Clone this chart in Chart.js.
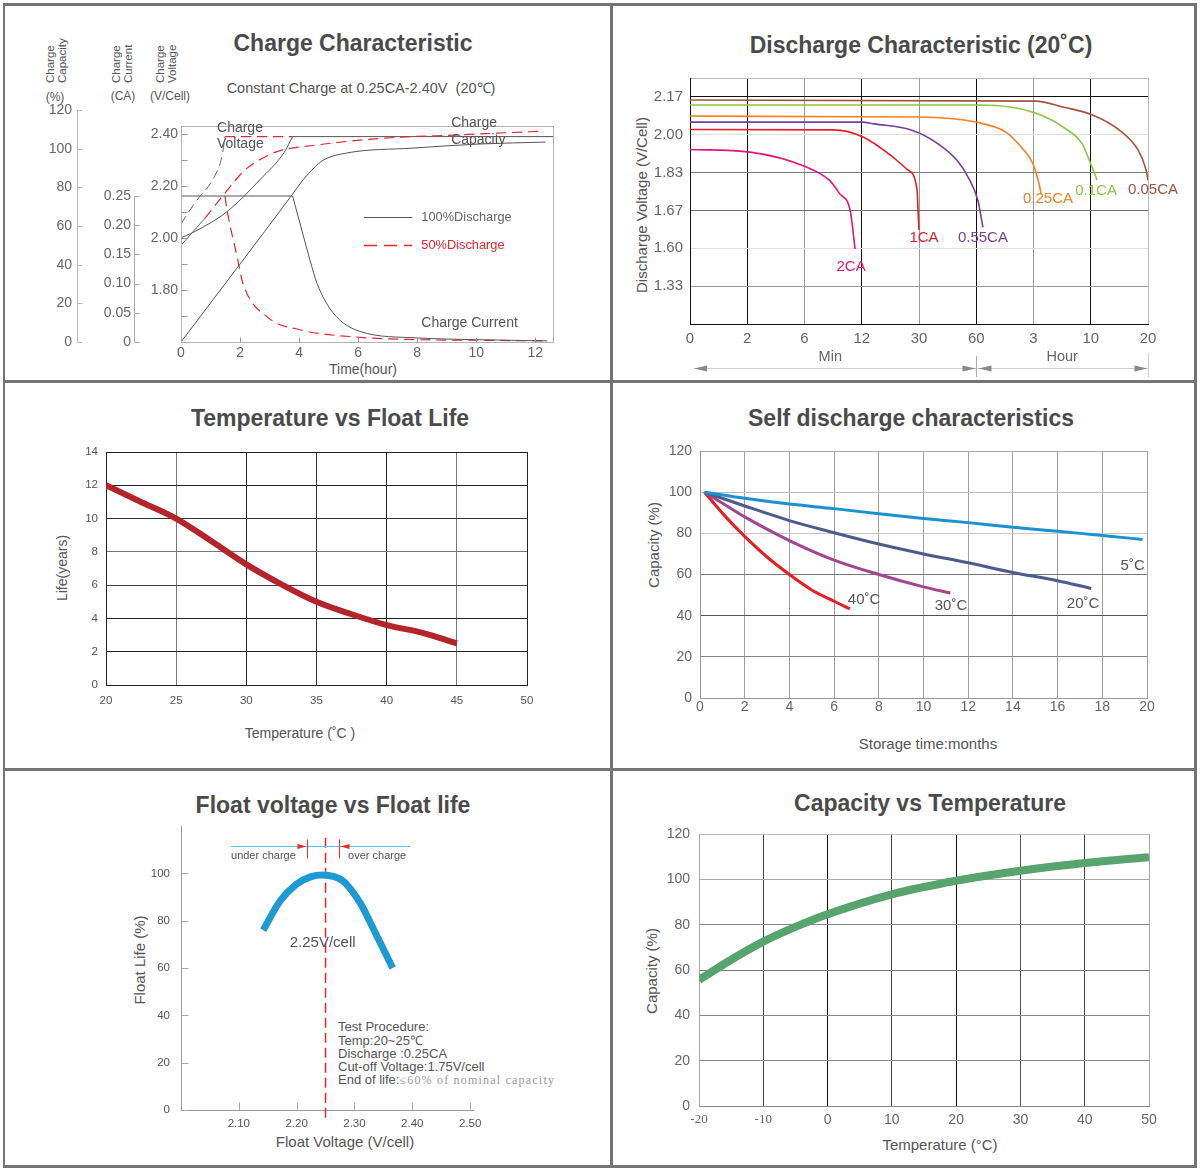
<!DOCTYPE html>
<html>
<head>
<meta charset="utf-8">
<title>Battery characteristics</title>
<script src="https://cdn.jsdelivr.net/npm/chart.js@4.4.1/dist/chart.umd.min.js"></script>
<style>
  body { margin: 0; background: #fff; }
  #page { position: relative; width: 1200px; height: 1171px; overflow: hidden;
          font-family: "Liberation Sans", Arial, sans-serif; color: #555; }
  #page canvas { position: absolute; left: 0; top: 0; }
  .rule { position: absolute; background: #737378; }
  .t { position: absolute; white-space: nowrap; transform: translate(-50%, -50%); }
  .title { font-size: 23px; font-weight: bold; color: #4a4a4a; }
  .rot { transform: translate(-50%, -50%) rotate(-90deg); }
  .head { position: absolute; top: 83px; font-size: 11.5px; line-height: 12px;
          transform-origin: 0 0; transform: rotate(-90deg); white-space: nowrap; }
  .proc { position: absolute; left: 338px; font-size: 13px; white-space: nowrap; transform: translateY(-50%); }
</style>
</head>
<body>
<div id="page">
  <div class="rule" style="left:3px;top:3px;width:1194px;height:3px"></div>
  <div class="rule" style="left:3px;top:1165px;width:1194px;height:3px"></div>
  <div class="rule" style="left:3px;top:3px;width:2px;height:1165px"></div>
  <div class="rule" style="left:1194px;top:3px;width:3px;height:1165px"></div>
  <div class="rule" style="left:610px;top:3px;width:3px;height:1165px"></div>
  <div class="rule" style="left:3px;top:380px;width:1194px;height:3px"></div>
  <div class="rule" style="left:3px;top:768px;width:1194px;height:3px"></div>

  <!-- panel titles -->
  <div class="t title" style="left:353px;top:43px">Charge Characteristic</div>
  <div class="t title" style="left:921px;top:45px">Discharge Characteristic (20˚C)</div>
  <div class="t title" style="left:330px;top:418px">Temperature vs Float Life</div>
  <div class="t title" style="left:911px;top:418px">Self discharge characteristics</div>
  <div class="t title" style="left:333px;top:805px">Float voltage vs Float life</div>
  <div class="t title" style="left:930px;top:803px">Capacity vs Temperature</div>

  <!-- charge characteristic texts -->
  <div class="t" style="left:361px;top:87px;font-size:14.5px">Constant Charge at 0.25CA-2.40V&nbsp; (20℃)</div>
  <div class="head" style="left:44px">Charge<br>Capacity</div>
  <div class="head" style="left:110px">Charge<br>Current</div>
  <div class="head" style="left:154px">Charge<br>Voltage</div>
  <div class="t" style="left:55px;top:97px;font-size:12px">(%)</div>
  <div class="t" style="left:123px;top:96px;font-size:12px">(CA)</div>
  <div class="t" style="left:170px;top:96px;font-size:12px">(V/Cell)</div>
  <div class="t" style="left:363px;top:369px;font-size:14px">Time(hour)</div>

  <!-- axis titles -->
  <div class="t rot" style="left:641px;top:205px;font-size:15px">Discharge Voltage (V/Cell)</div>
  <div class="t rot" style="left:62px;top:568px;font-size:14px">Life(years)</div>
  <div class="t" style="left:300px;top:733px;font-size:14px">Temperature (˚C )</div>
  <div class="t rot" style="left:653px;top:545px;font-size:15px">Capacity (%)</div>
  <div class="t" style="left:928px;top:743px;font-size:15px">Storage time:months</div>
  <div class="t rot" style="left:139px;top:960px;font-size:15px">Float Life (%)</div>
  <div class="t" style="left:345px;top:1141px;font-size:15px">Float Voltage (V/cell)</div>
  <div class="t rot" style="left:651px;top:971px;font-size:15px">Capacity (%)</div>
  <div class="t" style="left:940px;top:1144px;font-size:15px">Temperature (°C)</div>

  <!-- float test procedure -->
  <div class="proc" style="top:1026px">Test Procedure:</div>
  <div class="proc" style="top:1040px">Temp:20~25℃</div>
  <div class="proc" style="top:1053px">Discharge :0.25CA</div>
  <div class="proc" style="top:1066px">Cut-off Voltage:1.75V/cell</div>
  <div class="proc" style="top:1080px">End of life:<span style="font-family:'Liberation Serif',serif;color:#999;font-size:12px;letter-spacing:1.2px">≤60% of nominal capacity</span></div>
</div>

<script>
// ---------- Charge characteristic (x in hours) ----------
const chargeTimeTicks = [0, 2, 4, 6, 8, 10, 12];
const chargeVoltTicks = [1.7, 1.8, 1.9, 2.0, 2.1, 2.2, 2.3, 2.4];
const chargeVoltLabels = ['', '1.80', '', '2.00', '', '2.20', '', '2.40'];
const chargeCurTicks = [0, 0.05, 0.10, 0.15, 0.20, 0.25];
const chargeCurLabels = ['0', '0.05', '0.10', '0.15', '0.20', '0.25'];
const chargeCapTicks = [0, 20, 40, 60, 80, 100, 120];

const voltFullRise = [[0, 2.00], [0.64, 2.035], [1.6, 2.105], [2.68, 2.225], [3.5, 2.33], [3.78, 2.39]];
const voltFullFlat = [[3.78, 2.39], [12.6, 2.39]];
const voltHalfRise = [[0, 2.055], [0.47, 2.135], [1.15, 2.24], [1.39, 2.315], [1.49, 2.39]];
const voltHalfFlat = [[1.49, 2.39], [3.78, 2.39]];
const curFullFlat = [[0, 0.25], [3.78, 0.25]];
const curFullDrop = [[3.78, 0.25], [4.1, 0.19], [4.37, 0.14], [4.61, 0.10], [5.15, 0.05], [6.07, 0.018], [8, 0.007], [10, 0.004], [12.4, 0.002]];
const curHalfDrop = [[1.49, 0.25], [1.56, 0.226], [1.9, 0.146], [2.1, 0.10], [2.92, 0.043], [4.03, 0.021], [6.07, 0.008], [8, 0.004], [10, 0.003], [12.4, 0.002]];
const capFull = [[0, 0], [3.78, 76.5], [4.14, 84], [4.5, 90], [4.81, 94], [5.63, 97.8], [7.86, 100.3], [10.1, 102.4], [12.35, 103.4]];
const capHalfStart = [[0, 50], [0.81, 64]];
const capHalf = [[0.81, 64], [1.49, 77], [2.17, 89], [2.95, 96.5], [3.36, 99], [4.54, 101.8], [6.75, 105.3], [9.5, 107.2], [12.17, 109]];

// ---------- Discharge characteristic (minutes, volts) ----------
const dischargeTimeMinutes = [0, 2, 6, 12, 30, 60, 180, 600, 1200];
const dischargeTimeLabels = ['0', '2', '6', '12', '30', '60', '3', '10', '20'];
const dischargeVoltTicks = [1.33, 1.60, 1.67, 1.83, 2.00, 2.17];
const dischargeRates = ['2CA', '1CA', '0.55CA', '0.25CA', '0.1CA', '0.05CA'];
const rate2CA = [[0, 1.934], [2.2, 1.922], [6.2, 1.855], [8.6, 1.798], [9.7, 1.74], [10.8, 1.669], [11.3, 1.595]];
const rate1CA = [[0, 2.024], [9, 2.022], [12.4, 1.99], [21.8, 1.90], [26.5, 1.842], [29.4, 1.757], [29.7, 1.67], [30, 1.634]];
const rate055CA = [[0, 2.057], [12, 2.057], [15.9, 2.049], [27.8, 2.02], [40, 1.959], [50, 1.884], [55.7, 1.811], [63.6, 1.711], [74, 1.639]];
const rate025CA = [[0, 2.084], [30, 2.08], [59.8, 2.057], [122, 2.012], [154, 1.945], [179, 1.869], [226, 1.769], [235, 1.74]];
const rate01CA = [[0, 2.134], [63.6, 2.134], [131, 2.125], [205, 2.095], [396, 2.035], [537, 1.959], [600, 1.869], [666, 1.799]];
const rate005CA = [[0, 2.156], [197, 2.151], [396, 2.125], [624, 2.088], [900, 2.021], [1095, 1.932], [1180, 1.842], [1200, 1.798]];

// ---------- Temperature vs float life ----------
const lifeTempTicks = [20, 25, 30, 35, 40, 45, 50];
const lifeYearTicks = [0, 2, 4, 6, 8, 10, 12, 14];
const floatLifeYears = [[20, 12], [22.5, 11], [25, 10], [27.5, 8.65], [30, 7.25], [32.5, 6.05], [35, 5.0], [37.5, 4.25], [40, 3.6], [42.5, 3.15], [45, 2.5]];

// ---------- Self discharge (months, %) ----------
const storageMonthTicks = [0, 2, 4, 6, 8, 10, 12, 14, 16, 18, 20];
const selfCapTicks = [0, 20, 40, 60, 80, 100, 120];
const self5C = [[0.2, 100], [2, 97], [4, 94.2], [6, 92], [8, 89.5], [10, 87.2], [12, 85.2], [14, 83], [16, 81], [18, 79], [19.8, 77]];
const self20C = [[0.2, 100], [2, 93.3], [4, 86.2], [6, 80.3], [8, 74.8], [10, 70.0], [12, 65.7], [14, 61], [16, 57], [17.5, 53.2]];
const self30C = [[0.2, 100], [1.1, 94], [2, 88], [4, 76.5], [6, 67], [8, 60], [10, 54], [11.2, 51]];
const self40C = [[0.2, 100], [1.1, 88.6], [2, 78.5], [3, 68.5], [4, 60], [5, 52.5], [6, 47], [6.7, 43.3]];

// ---------- Float voltage vs float life ----------
const floatVoltTicks = [2.10, 2.20, 2.30, 2.40, 2.50];
const floatLifeTicks = [0, 20, 40, 60, 80, 100];
const floatLifePct = [[2.142, 76], [2.172, 88.5], [2.199, 95.3], [2.225, 98.6], [2.245, 99.3], [2.265, 98.6], [2.279, 97], [2.295, 92.8], [2.312, 86.6], [2.332, 76.9], [2.352, 67], [2.366, 60]];
const optimumVolt = 2.25;
const chargeBand = { left: 2.218, right: 2.273, y: 111.5, from: 2.0865, to: 2.396 };

// ---------- Capacity vs temperature ----------
const capTempTicks = [-20, -10, 0, 10, 20, 30, 40, 50];
const capPctTicks = [0, 20, 40, 60, 80, 100, 120];
const capacityByTemp = [[-20, 55.6], [-15, 64.5], [-10, 72.5], [-5, 79], [0, 84.6], [10, 93.4], [20, 99.4], [30, 103.8], [40, 107.2], [50, 109.8]];

// ---------- helpers ----------
Chart.defaults.font.family = '"Liberation Sans", Arial, sans-serif';
Chart.defaults.color = '#555';
Chart.defaults.animation = false;
Chart.defaults.responsive = false;
Chart.defaults.events = [];
Chart.defaults.plugins.legend.display = false;
Chart.defaults.plugins.tooltip.enabled = false;

const AXIS_W = 60, AXIS_H = 40;
function canvas(id) {
  const c = document.createElement('canvas');
  c.id = id; c.width = 1200; c.height = 1171;
  document.getElementById('page').appendChild(c);
  return c;
}
// chart area in page pixels (every canvas covers the whole page)
function area(l, t, r, b) { return { left: l - AXIS_W, top: t, right: 1200 - r, bottom: 1171 - b - AXIS_H }; }
function fixSize(s) { if (s.isHorizontal()) s.height = AXIS_H; else s.width = AXIS_W; }
function tickList(values) { return s => { s.ticks = values.map(v => ({ value: v })); }; }
function pts(arr) { return arr.map(p => ({ x: p[0], y: p[1] })); }
function series(arr, color, width, extra) {
  return Object.assign({ data: pts(arr), borderColor: color, borderWidth: width, pointRadius: 0,
    fill: false, cubicInterpolationMode: 'monotone' }, extra || {});
}
function interp(v, xs, ys) {
  for (let i = 0; i < xs.length - 1; i++) {
    if (v <= xs[i + 1] || i === xs.length - 2) {
      return ys[i] + (v - xs[i]) / (xs[i + 1] - xs[i]) * (ys[i + 1] - ys[i]);
    }
  }
}
function text(ctx, str, x, y, font, color, align) {
  ctx.save();
  ctx.font = font; ctx.fillStyle = color; ctx.textAlign = align || 'left'; ctx.textBaseline = 'middle';
  ctx.fillText(str, x, y);
  ctx.restore();
}
function seg(ctx, x1, y1, x2, y2, color, width, dash) {
  ctx.save();
  ctx.strokeStyle = color; ctx.lineWidth = width || 1; ctx.setLineDash(dash || []);
  ctx.beginPath(); ctx.moveTo(x1, y1); ctx.lineTo(x2, y2); ctx.stroke();
  ctx.restore();
}
function arrow(ctx, tipX, y, dir, len, half, color) {
  ctx.save();
  ctx.fillStyle = color;
  ctx.beginPath();
  ctx.moveTo(tipX, y); ctx.lineTo(tipX - dir * len, y - half); ctx.lineTo(tipX - dir * len, y + half);
  ctx.closePath(); ctx.fill();
  ctx.restore();
}
const FONT = '"Liberation Sans", Arial, sans-serif';

// ---------- 1. Charge characteristic ----------
const chargeDecor = {
  id: 'chargeDecor',
  afterDatasetsDraw(chart) {
    const c = chart.ctx, x = chart.scales.x, v = chart.scales.yV, cur = chart.scales.yCur, cap = chart.scales.yCap;
    const L = Math.round(x.getPixelForValue(0)) + 0.5, R = Math.round(x.getPixelForValue(12.6)) + 0.5;
    const T = Math.round(v.getPixelForValue(2.43)) + 0.5, B = Math.round(v.getPixelForValue(1.6)) + 0.5;
    c.save(); c.strokeStyle = '#b4b4b4'; c.lineWidth = 1;
    c.strokeRect(L, T, R - L, B - T); c.restore();
    chargeVoltTicks.forEach(t => { const y = Math.round(v.getPixelForValue(t)) + 0.5; seg(c, L, y, L + 6, y, '#999'); });
    chargeTimeTicks.slice(1).forEach(t => { const px = Math.round(x.getPixelForValue(t)) + 0.5; seg(c, px, B, px, B - 5, '#999'); });
    const capX = Math.round(cap.right) + 0.5;
    seg(c, capX, cap.getPixelForValue(0), capX, cap.getPixelForValue(120), '#bbb');
    chargeCapTicks.forEach(t => { const y = Math.round(cap.getPixelForValue(t)) + 0.5; seg(c, capX, y, capX + 5, y, '#bbb'); });
    const curX = Math.round(cur.right) + 0.5;
    seg(c, curX, cur.getPixelForValue(0), curX, cur.getPixelForValue(0.25), '#aaa');
    chargeCurTicks.forEach(t => { const y = Math.round(cur.getPixelForValue(t)) + 0.5; seg(c, curX, y, curX + 5, y, '#aaa'); });
    const f = '14px ' + FONT;
    text(c, 'Charge', x.getPixelForValue(1.22), v.getPixelForValue(2.423), f, '#555');
    text(c, 'Voltage', x.getPixelForValue(1.22), v.getPixelForValue(2.362), f, '#555');
    text(c, 'Charge', x.getPixelForValue(9.15), v.getPixelForValue(2.442), f, '#555');
    text(c, 'Capacity', x.getPixelForValue(9.15), v.getPixelForValue(2.377), f, '#555');
    text(c, 'Charge Current', x.getPixelForValue(8.14), v.getPixelForValue(1.673), f, '#555');
    const ly1 = Math.round(v.getPixelForValue(2.081)) + 0.5, ly2 = Math.round(v.getPixelForValue(1.973)) + 0.5;
    seg(c, x.getPixelForValue(6.2), ly1, x.getPixelForValue(7.83), ly1, '#555');
    seg(c, x.getPixelForValue(6.2), ly2, x.getPixelForValue(7.83), ly2, '#e8262e', 1.5, [13, 7]);
    text(c, '100%Discharge', x.getPixelForValue(8.14), ly1, '12.8px ' + FONT, '#666');
    text(c, '50%Discharge', x.getPixelForValue(8.14), ly2, '12.8px ' + FONT, '#e8262e');
  }
};
const RED = '#e8262e', DARK = '#555';
new Chart(canvas('c1'), {
  type: 'line',
  data: { datasets: [
    series(capFull, DARK, 1, { yAxisID: 'yCap' }),
    series(capHalfStart, '#666', 1, { yAxisID: 'yCap' }),
    series(capHalf, RED, 1.2, { yAxisID: 'yCap', borderDash: [10, 6] }),
    series(curFullFlat, DARK, 1, { yAxisID: 'yCur' }),
    series(curFullDrop, DARK, 1, { yAxisID: 'yCur' }),
    series(curHalfDrop, RED, 1.2, { yAxisID: 'yCur', borderDash: [10, 6] }),
    series(voltFullRise, DARK, 1, { yAxisID: 'yV' }),
    series(voltFullFlat, DARK, 1, { yAxisID: 'yV' }),
    series(voltHalfRise, '#666', 1, { yAxisID: 'yV', borderDash: [9, 5] }),
    series(voltHalfFlat, RED, 1.2, { yAxisID: 'yV', borderDash: [10, 6] })
  ] },
  options: {
    layout: { padding: { left: 77 - AXIS_W, top: 110, right: 1200 - 553, bottom: 1171 - 342 - AXIS_H } },
    scales: {
      x: { type: 'linear', min: 0, max: 12.6, afterFit: fixSize, afterBuildTicks: tickList(chargeTimeTicks),
           grid: { display: false, drawTicks: false }, border: { display: false },
           ticks: { padding: 3, font: { size: 14 }, color: '#666', maxRotation: 0 } },
      yCap: { type: 'linear', position: 'left', weight: 3, min: 0, max: 120, afterFit: fixSize,
              afterBuildTicks: tickList(chargeCapTicks), grid: { display: false, drawTicks: false }, border: { display: false },
              ticks: { padding: 5, font: { size: 14 }, color: '#666', autoSkip: false } },
      yCur: { type: 'linear', position: 'left', weight: 2, min: 0, max: 0.25 * 232 / 146,
              afterFit: s => { s.width = 57; }, afterBuildTicks: tickList(chargeCurTicks),
              grid: { display: false, drawTicks: false }, border: { display: false },
              ticks: { padding: 3, font: { size: 14 }, color: '#666', autoSkip: false, callback: (val, i) => chargeCurLabels[i] } },
      yV: { type: 'linear', position: 'left', weight: 1, min: 1.6, max: 1.6 + 232 / 260,
            afterFit: s => { s.width = 47; }, afterBuildTicks: tickList(chargeVoltTicks),
            grid: { display: false, drawTicks: false }, border: { display: false },
            ticks: { padding: 3, font: { size: 14 }, color: '#666', autoSkip: false, callback: (val, i) => chargeVoltLabels[i] } }
    }
  },
  plugins: [chargeDecor]
});

// ---------- 2. Discharge characteristic ----------
const timePos = m => interp(m, dischargeTimeMinutes, dischargeTimeMinutes.map((_, i) => i));
const voltPos = v => interp(v, dischargeVoltTicks, dischargeVoltTicks.map((_, i) => i + 1));
const toDischarge = arr => arr.map(p => [timePos(p[0]), voltPos(p[1])]);
const rateColors = ['#e3157f', '#ec1c24', '#7440a0', '#f58220', '#8dc63f', '#a3533e'];
const rateData = [rate2CA, rate1CA, rate055CA, rate025CA, rate01CA, rate005CA];
const rateLabelOffset = [[-4, 18], [5, 8], [0, 11], [7, 5], [-1, 11], [5, 10]];
const dischargeYPos = dischargeVoltTicks.map((_, i) => i + 1).concat([6.5]);
const dischargeYGrid = ['#9a9a9a', '#dedede', '#6f6f6f', '#7a7a7a', '#dedede', '#111', '#bbb'];
const dischargeXGrid = ['#111', '#111', '#9a9a9a', '#111', '#9a9a9a', '#111', '#9a9a9a', '#111', '#bbb'];
const dischargeDecor = {
  id: 'dischargeDecor',
  afterDatasetsDraw(chart) {
    const c = chart.ctx, x = chart.scales.x;
    chart.data.datasets.forEach((ds, i) => {
      const pts = chart.getDatasetMeta(i).data, end = pts[pts.length - 1];
      text(c, dischargeRates[i], end.x + rateLabelOffset[i][0], end.y + rateLabelOffset[i][1], '15px ' + FONT, rateColors[i], 'center');
    });
    const x0 = x.getPixelForValue(0), x5 = Math.round(x.getPixelForValue(5)) + 0.5, x8 = Math.round(x.getPixelForValue(8)) + 0.5;
    text(c, 'Min', x.getPixelForValue(2.45), 357, '14.5px ' + FONT, '#666', 'center');
    text(c, 'Hour', x.getPixelForValue(6.5), 357, '14.5px ' + FONT, '#666', 'center');
    seg(c, x0 + 4, 368.5, x8, 368.5, '#d0d0d0');
    seg(c, x5, 356, x5, 377, '#aaa');
    seg(c, x8, 353, x8, 377, '#ccc');
    arrow(c, x0 + 4, 368.5, -1, 13, 3, '#888');
    arrow(c, x5 - 1, 368.5, 1, 13, 3, '#888');
    arrow(c, x5 + 2, 368.5, -1, 13, 3, '#888');
    arrow(c, x8 - 1, 368.5, 1, 13, 3, '#888');
  }
};
new Chart(canvas('c2'), {
  type: 'line',
  data: { datasets: rateData.map((d, i) => series(toDischarge(d), rateColors[i], 1.6)) },
  options: {
    layout: { padding: area(690, 78, 1148, 324) },
    scales: {
      x: { type: 'linear', min: 0, max: 8, afterFit: fixSize,
           afterBuildTicks: tickList(dischargeTimeLabels.map((_, i) => i)),
           grid: { drawTicks: false, color: c => dischargeXGrid[c.index] }, border: { color: '#111' },
           ticks: { padding: 6, font: { size: 15 }, color: '#666', autoSkip: false, maxRotation: 0,
                    callback: (val, i) => dischargeTimeLabels[i] } },
      y: { type: 'linear', min: 0, max: 6.5, afterFit: fixSize, afterBuildTicks: tickList(dischargeYPos),
           grid: { drawTicks: false, color: c => dischargeYGrid[c.index] }, border: { color: '#111' },
           ticks: { padding: 7, font: { size: 15 }, color: '#666', autoSkip: false,
                    callback: (val, i) => (dischargeVoltTicks[i] !== undefined ? dischargeVoltTicks[i].toFixed(2) : '') } }
    }
  },
  plugins: [dischargeDecor]
});

// ---------- 3. Temperature vs float life ----------
const lifeXGrid = ['#222', '#777', '#222', '#333', '#222', '#777', '#222'];
const lifeYGrid = ['#222', '#222', '#222', '#444', '#777', '#333', '#222', '#222'];
new Chart(canvas('c3'), {
  type: 'line',
  data: { datasets: [series(floatLifeYears, '#b5232b', 6, { borderCapStyle: 'butt' })] },
  options: {
    layout: { padding: area(106, 452, 527, 685) },
    scales: {
      x: { type: 'linear', min: 20, max: 50, afterFit: fixSize, afterBuildTicks: tickList(lifeTempTicks),
           grid: { drawTicks: false, color: c => lifeXGrid[c.index] }, border: { color: '#222' },
           ticks: { padding: 9, font: { size: 11.5 }, color: '#555', maxRotation: 0 } },
      y: { type: 'linear', min: 0, max: 14, afterFit: fixSize, afterBuildTicks: tickList(lifeYearTicks),
           grid: { drawTicks: false, color: c => lifeYGrid[c.index] }, border: { color: '#222' },
           ticks: { padding: 8, font: { size: 11.5 }, color: '#555', autoSkip: false } }
    }
  }
});

// ---------- 4. Self discharge ----------
const selfTemps = ['5˚C', '20˚C', '30˚C', '40˚C'];
const selfColors = ['#1a91d1', '#4b5b8c', '#a2478f', '#ea1c24'];
const selfLabelAt = [[19.36, 64.1], [17.14, 45.7], [11.23, 44.7], [7.34, 47.6]];
const selfYGrid = ['#777', '#888', '#555', '#777', '#c8c8c8', '#bbb', '#aaa'];
const selfDecor = {
  id: 'selfDecor',
  afterDatasetsDraw(chart) {
    const c = chart.ctx, x = chart.scales.x, y = chart.scales.y;
    selfLabelAt.forEach((p, i) => text(c, selfTemps[i], x.getPixelForValue(p[0]), y.getPixelForValue(p[1]), '15px ' + FONT, '#555', 'center'));
  }
};
new Chart(canvas('c4'), {
  type: 'line',
  data: { datasets: [self5C, self20C, self30C, self40C].map((d, i) => series(d, selfColors[i], 3)) },
  options: {
    layout: { padding: area(700, 451, 1147, 698) },
    scales: {
      x: { type: 'linear', min: 0, max: 20, afterFit: fixSize, afterBuildTicks: tickList(storageMonthTicks),
           grid: { drawTicks: false, color: '#a0a0a0' }, border: { color: '#999' },
           ticks: { padding: 1, font: { size: 14 }, color: '#666', maxRotation: 0 } },
      y: { type: 'linear', min: 0, max: 120, afterFit: fixSize, afterBuildTicks: tickList(selfCapTicks),
           grid: { drawTicks: false, color: c => selfYGrid[c.index] }, border: { color: '#999' },
           ticks: { padding: 8, font: { size: 14 }, color: '#666', autoSkip: false } }
    }
  },
  plugins: [selfDecor]
});

// ---------- 5. Float voltage vs float life ----------
const floatDecor = {
  id: 'floatDecor',
  afterDatasetsDraw(chart) {
    const c = chart.ctx, x = chart.scales.x, y = chart.scales.y;
    const B = Math.round(y.getPixelForValue(0)) + 0.5, L = Math.round(x.getPixelForValue(2.0)) + 0.5;
    floatLifeTicks.forEach(t => { const py = Math.round(y.getPixelForValue(t)) + 0.5; seg(c, L, py, L + 7, py, '#aaa'); });
    floatVoltTicks.forEach(t => { const px = Math.round(x.getPixelForValue(t)) + 0.5; seg(c, px, B, px, B - 8, '#aaa'); });
    const by = Math.round(y.getPixelForValue(chargeBand.y)) + 0.5;
    seg(c, x.getPixelForValue(chargeBand.from), by, x.getPixelForValue(chargeBand.to), by, '#5bc3ee');
    const lx = Math.round(x.getPixelForValue(chargeBand.left)) + 0.5, rx = Math.round(x.getPixelForValue(chargeBand.right)) + 0.5;
    seg(c, lx, by - 7, lx, by + 12, '#ee2a2a');
    seg(c, rx, by - 7, rx, by + 12, '#ee2a2a');
    arrow(c, lx - 1, by, 1, 9, 2.5, '#ee2a2a');
    arrow(c, rx + 1, by, -1, 9, 2.5, '#ee2a2a');
    text(c, 'under charge', x.getPixelForValue(chargeBand.from), by + 9, '11px ' + FONT, '#555');
    text(c, 'over charge', x.getPixelForValue(2.289), by + 9, '11px ' + FONT, '#555');
    text(c, optimumVolt.toFixed(2) + 'V/cell', x.getPixelForValue(2.245), y.getPixelForValue(70.5), '15px ' + FONT, '#555', 'center');
  }
};
new Chart(canvas('c5'), {
  type: 'line',
  data: { datasets: [
    series(floatLifePct, '#1b9ad6', 7, { borderCapStyle: 'butt' }),
    series([[optimumVolt, 115], [optimumVolt, -3.4]], '#e8262e', 1.5, { borderDash: [10, 5], clip: false, cubicInterpolationMode: 'default' })
  ] },
  options: {
    layout: { padding: area(181, 826, 473, 1110) },
    scales: {
      x: { type: 'linear', min: 2.0, max: 2.505, afterFit: fixSize, afterBuildTicks: tickList(floatVoltTicks),
           grid: { display: false, drawTicks: false }, border: { color: '#999' },
           ticks: { padding: 7, font: { size: 11.5 }, color: '#555', maxRotation: 0, callback: v => v.toFixed(2) } },
      y: { type: 'linear', min: 0, max: 120, afterFit: fixSize, afterBuildTicks: tickList(floatLifeTicks),
           grid: { display: false, drawTicks: false }, border: { color: '#999' },
           ticks: { padding: 11, font: { size: 11.5 }, color: '#555', autoSkip: false } }
    }
  },
  plugins: [floatDecor]
});

// ---------- 6. Capacity vs temperature ----------
const capXGrid = ['#999', '#444', '#111', '#444', '#111', '#555', '#444', '#aaa'];
const capYGrid = ['#888', '#888', '#888', '#777', '#888', '#aaa', '#bbb'];
new Chart(canvas('c6'), {
  type: 'line',
  data: { datasets: [series(capacityByTemp, '#57a46e', 8, { borderCapStyle: 'butt' })] },
  options: {
    layout: { padding: area(699, 834, 1149, 1106) },
    scales: {
      x: { type: 'linear', min: -20, max: 50, afterFit: fixSize, afterBuildTicks: tickList(capTempTicks),
           grid: { drawTicks: false, color: c => capXGrid[c.index] }, border: { color: '#888' },
           ticks: { padding: 6, color: '#666', maxRotation: 0,
                    font: c => (c.tick && c.tick.value < 0 ? { family: '"Liberation Serif", serif', size: 13 } : { size: 14 }) } },
      y: { type: 'linear', min: 0, max: 120, afterFit: fixSize, afterBuildTicks: tickList(capPctTicks),
           grid: { drawTicks: false, color: c => capYGrid[c.index] }, border: { color: '#aaa' },
           ticks: { padding: 9, font: { size: 14 }, color: '#666', autoSkip: false } }
    }
  }
});
</script>
</body>
</html>
